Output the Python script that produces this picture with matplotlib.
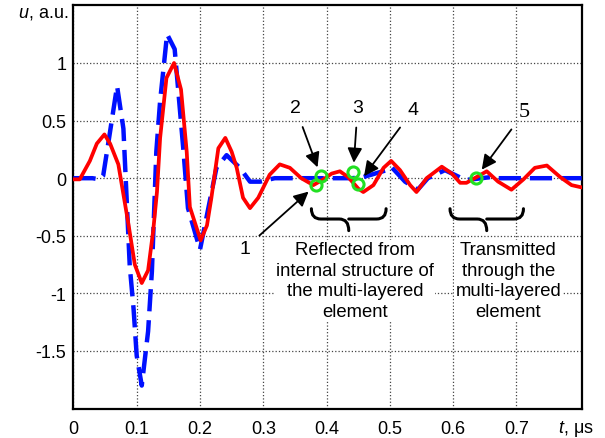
import matplotlib
matplotlib.use('Agg')
import matplotlib.pyplot as plt
from matplotlib.path import Path
from matplotlib.patches import PathPatch

plt.rcParams['font.family'] = ['Liberation Sans', 'DejaVu Sans']
plt.rcParams['mathtext.fontset'] = 'custom'
plt.rcParams['mathtext.it'] = 'Liberation Sans:italic'
plt.rcParams['mathtext.rm'] = 'Liberation Sans'

# red curve (solid)
t_red = [0, 0.01, 0.026, 0.037, 0.049, 0.058, 0.071, 0.087, 0.097, 0.108, 0.118,
         0.126, 0.132, 0.137, 0.147, 0.159, 0.170, 0.179, 0.184, 0.201, 0.211,
         0.218, 0.229, 0.240, 0.250, 0.258, 0.268, 0.279, 0.292, 0.31, 0.326,
         0.342, 0.36, 0.379, 0.395, 0.408, 0.421, 0.434, 0.45, 0.458, 0.474,
         0.49, 0.502, 0.516, 0.532, 0.542, 0.558, 0.582, 0.598, 0.611, 0.621,
         0.637, 0.653, 0.671, 0.692, 0.711, 0.729, 0.748, 0.769, 0.787, 0.803]
u_red = [-0.01, -0.01, 0.15, 0.30, 0.38, 0.30, 0.12, -0.40, -0.75, -0.91, -0.80,
         -0.46, -0.12, 0.35, 0.87, 1.0, 0.77, 0.23, -0.25, -0.54, -0.41,
         -0.17, 0.26, 0.35, 0.23, 0.09, -0.17, -0.26, -0.17, 0.03, 0.12,
         0.09, 0.0, -0.06, -0.01, 0.04, 0.06, 0.01, -0.09, -0.12, -0.06,
         0.09, 0.15, 0.07, -0.06, -0.12, 0.0, 0.10, 0.04, -0.04, -0.04,
         0.01, 0.06, -0.03, -0.10, -0.01, 0.09, 0.11, 0.01, -0.06, -0.08]

# blue curve (dashed)
t_blue = [0, 0.03, 0.042, 0.047, 0.055, 0.069, 0.079, 0.089, 0.095, 0.100, 0.108,
          0.118, 0.124, 0.131, 0.137, 0.148, 0.160, 0.174, 0.181, 0.200, 0.211,
          0.226, 0.242, 0.263, 0.279, 0.295, 0.318, 0.374, 0.44, 0.458, 0.495,
          0.502, 0.524, 0.544, 0.56, 0.587, 0.619, 0.63, 0.66, 0.67, 0.803]
u_blue = [0.0, 0.0, -0.01, 0.02, 0.3, 0.80, 0.43, -0.76, -1.13, -1.54, -1.80,
          -1.33, -0.81, 0.23, 0.67, 1.25, 1.12, 0.23, -0.26, -0.62, -0.32,
          0.09, 0.20, 0.09, -0.03, -0.03, 0.0, 0.0, 0.0, 0.01, 0.07,
          0.10, -0.03, -0.10, 0.0, 0.07, -0.015, -0.01, 0.01, 0.0, 0.0]

# marked points 1..5
circ_t = [0.383, 0.391, 0.442, 0.450, 0.636]
circ_u = [-0.06, 0.015, 0.05, -0.05, 0.006]
circ_lbl = ['1', '2', '3', '4', '5']
lbl_t = [0.271, 0.351, 0.449, 0.537, 0.713]
lbl_u = [-0.61, 0.61, 0.61, 0.595, 0.58]

xticks = [0, 0.1, 0.2, 0.3, 0.4, 0.5, 0.6, 0.7]
yticks = [-1.5, -1, -0.5, 0, 0.5, 1]

fig = plt.figure(figsize=(6.05, 4.39), dpi=100)
ax = fig.add_axes([73.4 / 605, 29.4 / 439, 508.6 / 605, 403.2 / 439])

ax.plot(t_blue, u_blue, color='#0010ff', lw=3.2, dashes=(5, 2), zorder=3)
ax.plot(t_red, u_red, color='#ff0000', lw=2.7, zorder=4)
ax.plot(circ_t, circ_u, 'o', ms=8, mfc='none', mec='#22e022', mew=2.2, zorder=5)

ax.set_xlim(0, 0.8035)
ax.set_ylim(-2, 1.5)
ax.set_xticks(xticks)
ax.set_xticklabels(['0', '0.1', '0.2', '0.3', '0.4', '0.5', '0.6', '0.7'])
ax.set_yticks(yticks)
ax.set_yticklabels(['-1.5', '-1', '-0.5', '0', '0.5', '1'])
ax.tick_params(length=0, labelsize=13, colors='black')
ax.tick_params(axis='x', pad=8)
ax.tick_params(axis='y', pad=5)
ax.grid(True, ls=':', color='#444444', lw=0.9)
for s in ax.spines.values():
    s.set_linewidth(1.6)
    s.set_color('black')

fig.text(68 / 605, 1 - 13 / 439, '$u$, a.u.', ha='right', va='center', fontsize=13)
fig.text(576 / 605, 1 - 429 / 439, '$t$, μs', ha='center', va='center', fontsize=13)

arrow = dict(arrowstyle='-|>', mutation_scale=22, lw=1.3, color='black',
             shrinkA=6, shrinkB=7)
for i in range(5):
    if i < 4:
        kw = dict(fontsize=14)
    else:
        kw = dict(fontsize=16, family='Liberation Serif')
    ax.annotate(circ_lbl[i], xy=(circ_t[i], circ_u[i]), xytext=(lbl_t[i], lbl_u[i]),
                ha='center', va='center', arrowprops=arrow, zorder=6, **kw)


def brace(x0, x1, ytop, h):
    xm = (x0 + x1) / 2
    r = 0.015
    ymid = ytop - h * 0.47
    ytip = ytop - h
    verts = [(x0, ytop), (x0, ymid), (x0 + r, ymid), (xm - r, ymid),
             (xm, ymid), (xm, ytip),
             (xm, ymid), (xm + r, ymid), (x1 - r, ymid), (x1, ymid), (x1, ytop)]
    codes = [Path.MOVETO, Path.CURVE3, Path.CURVE3, Path.LINETO,
             Path.CURVE3, Path.CURVE3,
             Path.MOVETO, Path.CURVE3, Path.LINETO, Path.CURVE3, Path.CURVE3]
    ax.add_patch(PathPatch(Path(verts, codes), fc='none', ec='black', lw=2.2,
                           capstyle='round', zorder=6))


brace(0.376, 0.494, -0.265, 0.19)
brace(0.595, 0.711, -0.265, 0.19)

box = dict(fc='white', ec='none', pad=1)
ax.text(0.445, -0.89, 'Reflected from\ninternal structure of\nthe multi-layered\nelement',
        ha='center', va='center', fontsize=13.3, linespacing=1.27, bbox=box, zorder=6)
ax.text(0.687, -0.89, 'Transmitted\nthrough the\nmulti-layered\nelement',
        ha='center', va='center', fontsize=13.3, linespacing=1.27, bbox=box, zorder=6)

fig.savefig('out.png', dpi=100)
